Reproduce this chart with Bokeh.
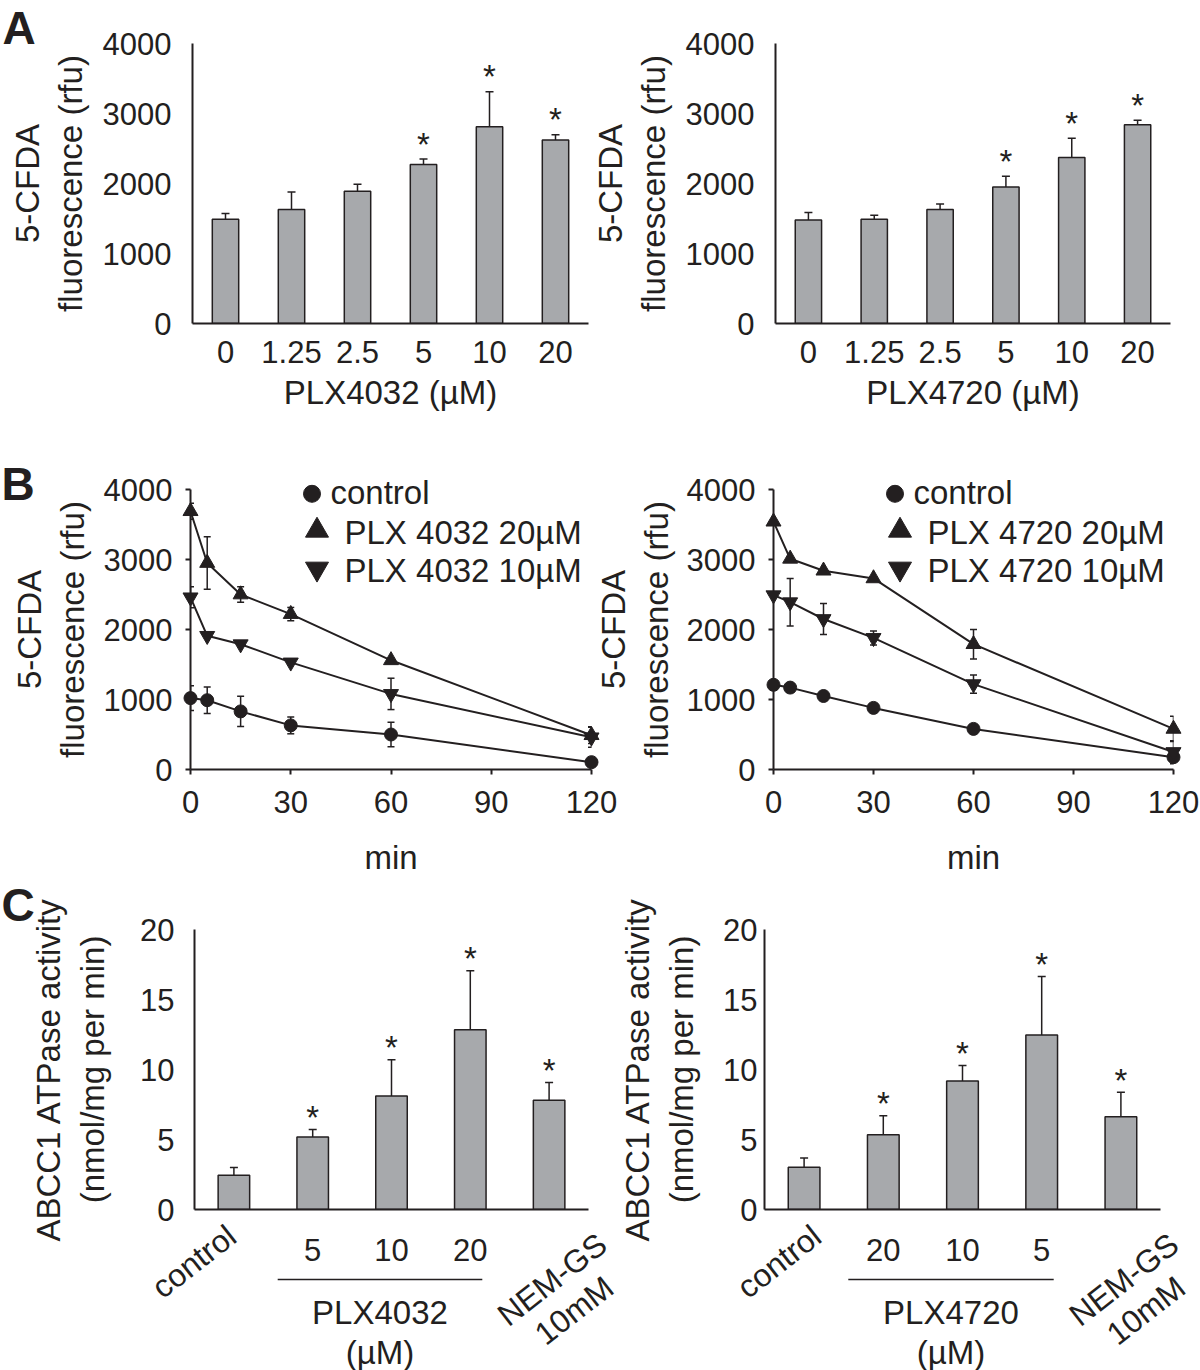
from bokeh.plotting import figure
from bokeh.layouts import column, row
from bokeh.models import (Range1d, FactorRange, FixedTicker, ColumnDataSource,
                          Whisker, TeeHead)
from bokeh.core.properties import value
from bokeh.embed import file_html
from bokeh.resources import INLINE

FONT = "Liberation Sans"
INK = "#231f20"
BAR = "#a7a9ac"
TICK_FS = "31px"
LAB_FS = "33px"

# ---------------- data ----------------
dose_labels = ["0", "1.25", "2.5", "5", "10", "20"]
plx4032_cfda = [1490, 1630, 1890, 2270, 2810, 2620]
plx4032_cfda_err = [80, 250, 100, 80, 500, 76]
plx4032_cfda_sig = [False, False, False, True, True, True]
plx4720_cfda = [1480, 1490, 1630, 1950, 2370, 2840]
plx4720_cfda_err = [105, 57, 77, 153, 276, 62]
plx4720_cfda_sig = [False, False, False, True, True, True]

efflux_minutes = [0, 5, 15, 30, 60, 120]
b1_control = [1020, 990, 830, 630, 500, 105]
b1_control_err = [176, 190, 215, 120, 175, 0]
b1_plx20 = [3690, 2950, 2500, 2220, 1560, 490]
b1_plx20_err = [114, 376, 110, 95, 0, 119]
b1_plx10 = [2460, 1910, 1790, 1530, 1080, 460]
b1_plx10_err = [150, 0, 0, 0, 224, 143]
b2_control = [1210, 1170, 1050, 880, 580, 176]
b2_control_err = [0, 0, 0, 0, 0, 95]
b2_plx20 = [3540, 3010, 2840, 2730, 1790, 580]
b2_plx20_err = [0, 0, 0, 0, 210, 180]
b2_plx10 = [2490, 2390, 2150, 1880, 1220, 250]
b2_plx10_err = [0, 340, 220, 100, 130, 160]

c1_categories = ["control", "5", "10", "20", "NEM-GS 10mM"]
c1_activity = [2.45, 5.18, 8.1, 12.84, 7.8]
c1_activity_err = [0.55, 0.53, 2.59, 4.21, 1.28]
c1_sig = [False, True, True, True, True]
c2_categories = ["control", "20", "10", "5", "NEM-GS 10mM"]
c2_activity = [3.02, 5.34, 9.17, 12.47, 6.63]
c2_activity_err = [0.66, 1.36, 1.11, 4.18, 1.75]
c2_sig = [False, True, True, True, True]


class Geo:
    def __init__(self, L, T, FW, FH, xr, yr):
        self.L, self.T, self.FW, self.FH, self.xr, self.yr = L, T, FW, FH, xr, yr

    def x(self, px):
        return self.xr[0] + (px - self.L) / self.FW * (self.xr[1] - self.xr[0])

    def y(self, py):
        return self.yr[1] - (py - self.T) / self.FH * (self.yr[1] - self.yr[0])

    def ux(self, dpx):
        return dpx / self.FW * (self.xr[1] - self.xr[0])

    def uy(self, dpx):
        return dpx / self.FH * (self.yr[1] - self.yr[0])


def make_fig(L, T, FW, FH, R, B, x_range, y_range):
    p = figure(frame_width=FW, frame_height=FH, min_border_left=L, min_border_top=T,
               min_border_right=R, min_border_bottom=B, x_range=x_range, y_range=y_range,
               output_backend="svg", toolbar_location=None,
               background_fill_color=None, border_fill_color=None, outline_line_color=None)
    p.xgrid.visible = False
    p.ygrid.visible = False
    for ax in (p.xaxis[0], p.yaxis[0]):
        ax.axis_line_color = INK
        ax.axis_line_width = 2
        ax.major_tick_line_color = INK
        ax.major_tick_line_width = 2
        ax.minor_tick_line_color = None
        ax.minor_tick_in = 0
        ax.minor_tick_out = 0
        ax.major_tick_in = 0
        ax.major_label_text_font = FONT
        ax.major_label_text_font_size = TICK_FS
        ax.major_label_text_color = INK
        ax.axis_label_text_font = FONT
        ax.axis_label_text_font_style = "normal"
        ax.axis_label_text_font_size = LAB_FS
        ax.axis_label_text_color = INK
    return p


def free_text(p, xs, ys, texts, size="33px", align="center", baseline="middle",
              angle=0.0, style="normal"):
    # text drawn outside the frame (overlay level is not clipped)
    p.text(x=xs, y=ys, text=texts, angle=angle, angle_units="deg",
           text_font=value(FONT), text_font_size=size, text_font_style=style,
           text_color=INK, text_align=align, text_baseline=baseline, level="overlay")


def letter(p, g, text, px, py):
    free_text(p, [g.x(px)], [g.y(py)], [text], size="46px", align="left", style="bold")


def bar_panel(x_range, xs, vals, errs, sig, ymax, ystep, ylabel, geo_args, xr,
              ylab_standoff, ytick_standoff, star_px, lab_line_height):
    L, T, FW, FH, R, B = geo_args
    p = make_fig(L, T, FW, FH, R, B, x_range, Range1d(0, ymax))
    g = Geo(L, T, FW, FH, xr, (0, ymax))
    src = ColumnDataSource(dict(x=xs, top=vals, upper=[v + e for v, e in zip(vals, errs)]))
    p.vbar(x="x", top="top", width=0.4, source=src, fill_color=BAR, line_color=INK,
           line_width=1.5)
    p.add_layout(Whisker(base="x", lower="top", upper="upper", source=src, line_color=INK,
                         line_width=1.5, lower_head=None,
                         upper_head=TeeHead(size=8, line_color=INK, line_width=1.5)))
    sx = [c for c, s in zip(xs, sig) if s]
    sy = [v + e + g.uy(star_px) for v, e, s in zip(vals, errs, sig) if s]
    p.text(x=sx, y=sy, text=["*"] * len(sx), text_font=value(FONT), text_font_size="33px",
           text_color=INK, text_align="center", text_baseline="middle")
    p.yaxis.ticker = FixedTicker(ticks=list(range(0, ymax + 1, ystep)))
    p.yaxis.major_tick_out = 0
    p.yaxis.major_label_standoff = ytick_standoff
    p.yaxis.axis_label = ylabel
    p.yaxis.axis_label_standoff = ylab_standoff
    p.yaxis.axis_label_text_line_height = lab_line_height
    p.xaxis.major_tick_out = 0
    return p, g


# ---------------- Panel A ----------------
pa1, ga1 = bar_panel(FactorRange(*dose_labels), dose_labels, plx4032_cfda, plx4032_cfda_err,
                     plx4032_cfda_sig, 4000, 1000, "5-CFDA\nfluorescence (rfu)",
                     (192, 43, 396, 280, 10, 117), (0, len(dose_labels)), 11, 21, 15, 1.15)
pa2, ga2 = bar_panel(FactorRange(*dose_labels), dose_labels, plx4720_cfda, plx4720_cfda_err,
                     plx4720_cfda_sig, 4000, 1000, "5-CFDA\nfluorescence (rfu)",
                     (192, 43, 395, 280, 28, 117), (0, len(dose_labels)), 11, 21, 15, 1.15)
for p, lab in ((pa1, "PLX4032 (µM)"), (pa2, "PLX4720 (µM)")):
    p.xaxis.axis_label = lab
    p.xaxis.major_label_standoff = 17
    p.xaxis.axis_label_standoff = 8
letter(pa1, ga1, "A", 2, 27)


# ---------------- Panel B ----------------
def line_panel(series, geo_args, legend_names, ylab_standoff):
    L, T, FW, FH, R, B = geo_args
    p = make_fig(L, T, FW, FH, R, B, Range1d(0, 120), Range1d(0, 4000))
    g = Geo(L, T, FW, FH, (0, 120), (0, 4000))
    markers = ["circle", "triangle", "inverted_triangle"]
    sizes = [13, 15, 15]
    for (vals, errs), mk, sz in zip(series, markers, sizes):
        p.line(efflux_minutes, vals, line_color=INK, line_width=2, level="overlay")
        ex = [t for t, e in zip(efflux_minutes, errs) if e > 0]
        lo = [v - e for v, e in zip(vals, errs) if e > 0]
        hi = [v + e for v, e in zip(vals, errs) if e > 0]
        ws = ColumnDataSource(dict(x=ex, lo=lo, hi=hi))
        p.add_layout(Whisker(base="x", lower="lo", upper="hi", source=ws, line_color=INK,
                             line_width=1.5,
                             lower_head=TeeHead(size=7, line_color=INK, line_width=1.5),
                             upper_head=TeeHead(size=7, line_color=INK, line_width=1.5)))
        p.scatter(efflux_minutes, vals, marker=mk, size=sz, fill_color=INK, line_color=INK,
                  level="overlay")
    # legend (drawn by hand, offsets in pixels from the frame's top-left corner)
    leg_marker_x = [121.5, 126.5, 126.5]
    leg_marker_y = [4.3, 41, 79.3]
    leg_sizes = [17, 23, 23]
    leg_text_x = [140, 154, 154]
    leg_text_y = [2.7, 42.7, 81]
    for mk, mx, my, sz, tx, ty, name in zip(markers, leg_marker_x, leg_marker_y, leg_sizes,
                                            leg_text_x, leg_text_y, legend_names):
        p.scatter([g.x(L + mx)], [g.y(T + my)], marker=mk, size=sz, fill_color=INK,
                  line_color=INK, level="overlay")
        free_text(p, [g.x(L + tx)], [g.y(T + ty)], [name], align="left")
    p.xaxis.ticker = FixedTicker(ticks=[0, 30, 60, 90, 120])
    p.yaxis.ticker = FixedTicker(ticks=[0, 1000, 2000, 3000, 4000])
    p.xaxis.major_tick_out = 5
    p.yaxis.major_tick_out = 5
    p.yaxis.major_label_standoff = 13
    p.xaxis.major_label_standoff = 16
    p.xaxis.axis_label = "min"
    p.xaxis.axis_label_standoff = 23
    p.yaxis.axis_label = "5-CFDA\nfluorescence (rfu)"
    p.yaxis.axis_label_standoff = ylab_standoff
    p.yaxis.axis_label_text_line_height = 1.15
    return p, g


pb1, gb1 = line_panel([(b1_control, b1_control_err), (b1_plx20, b1_plx20_err),
                       (b1_plx10, b1_plx10_err)], (190, 49, 401, 280, 49, 110),
                      ["control", "PLX 4032 20µM", "PLX 4032 10µM"], 10)
pb2, gb2 = line_panel([(b2_control, b2_control_err), (b2_plx20, b2_plx20_err),
                       (b2_plx10, b2_plx10_err)], (190, 49, 400, 280, 27, 110),
                      ["control", "PLX 4720 20µM", "PLX 4720 10µM"], 9)
letter(pb1, gb1, "B", 1, 43)


# ---------------- Panel C ----------------
def c_panel(cats, vals, errs, sig, geo_args, drug, ylab_standoff, ytick_standoff, ctrl_dx):
    n = len(cats)
    xs = [i + 0.5 for i in range(n)]
    p, g = bar_panel(Range1d(0, n), xs, vals, errs, sig, 20, 5,
                     "ABCC1 ATPase activity\n(nmol/mg per min)", geo_args, (0, n),
                     ylab_standoff, ytick_standoff, 12, 1.2)
    dose_pos = xs[1:-1]
    p.xaxis.ticker = FixedTicker(ticks=dose_pos)
    p.xaxis.major_label_overrides = {x: c for x, c in zip(dose_pos, cats[1:-1])}
    p.xaxis.major_label_standoff = 29
    axis_py = g.T + g.FH
    first, second = cats[-1].split(" ")
    free_text(p, [xs[0] + g.ux(ctrl_dx), xs[-1] + g.ux(3), xs[-1] + g.ux(25)],
              [g.y(axis_py + 52), g.y(axis_py + 70), g.y(axis_py + 101)],
              [cats[0], first, second], size="32px", angle=38)
    yl = g.y(axis_py + 70)
    x_start = xs[1] + g.ux(-35)
    x_end = xs[3] + g.ux(12)
    p.line([x_start, x_end], [yl, yl], line_color=INK, line_width=1.5, level="overlay")
    mid = (x_start + x_end) / 2
    free_text(p, [mid, mid], [g.y(axis_py + 103), g.y(axis_py + 143)], [drug, "(µM)"])
    return p, g


pc1, gc1 = c_panel(c1_categories, c1_activity, c1_activity_err, c1_sig,
                   (194, 50, 394, 280, 52, 161), "PLX4032", 26, 20, -40)
pc2, gc2 = c_panel(c2_categories, c2_activity, c2_activity_err, c2_sig,
                   (166, 50, 396, 280, 40, 161), "PLX4720", 20, 7, -25)
letter(pc1, gc1, "C", 1, 25)

# right-hand panels overlap the left ones (transparent canvases) so that every
# frame sits where it does in the reference
pa2.margin = (0, 0, 0, -15)   # 598 - 15 = 583; 583 + 192 = 775
pb2.margin = (0, 0, 0, -57)   # 640 - 57 = 583; 583 + 190 = 773
pc2.margin = (0, 0, 0, -42)   # 640 - 42 = 598; 598 + 166 = 764

layout = column(row(pa1, pa2), row(pb1, pb2), row(pc1, pc2))

open("out.html", "w").write(file_html(layout, INLINE))
